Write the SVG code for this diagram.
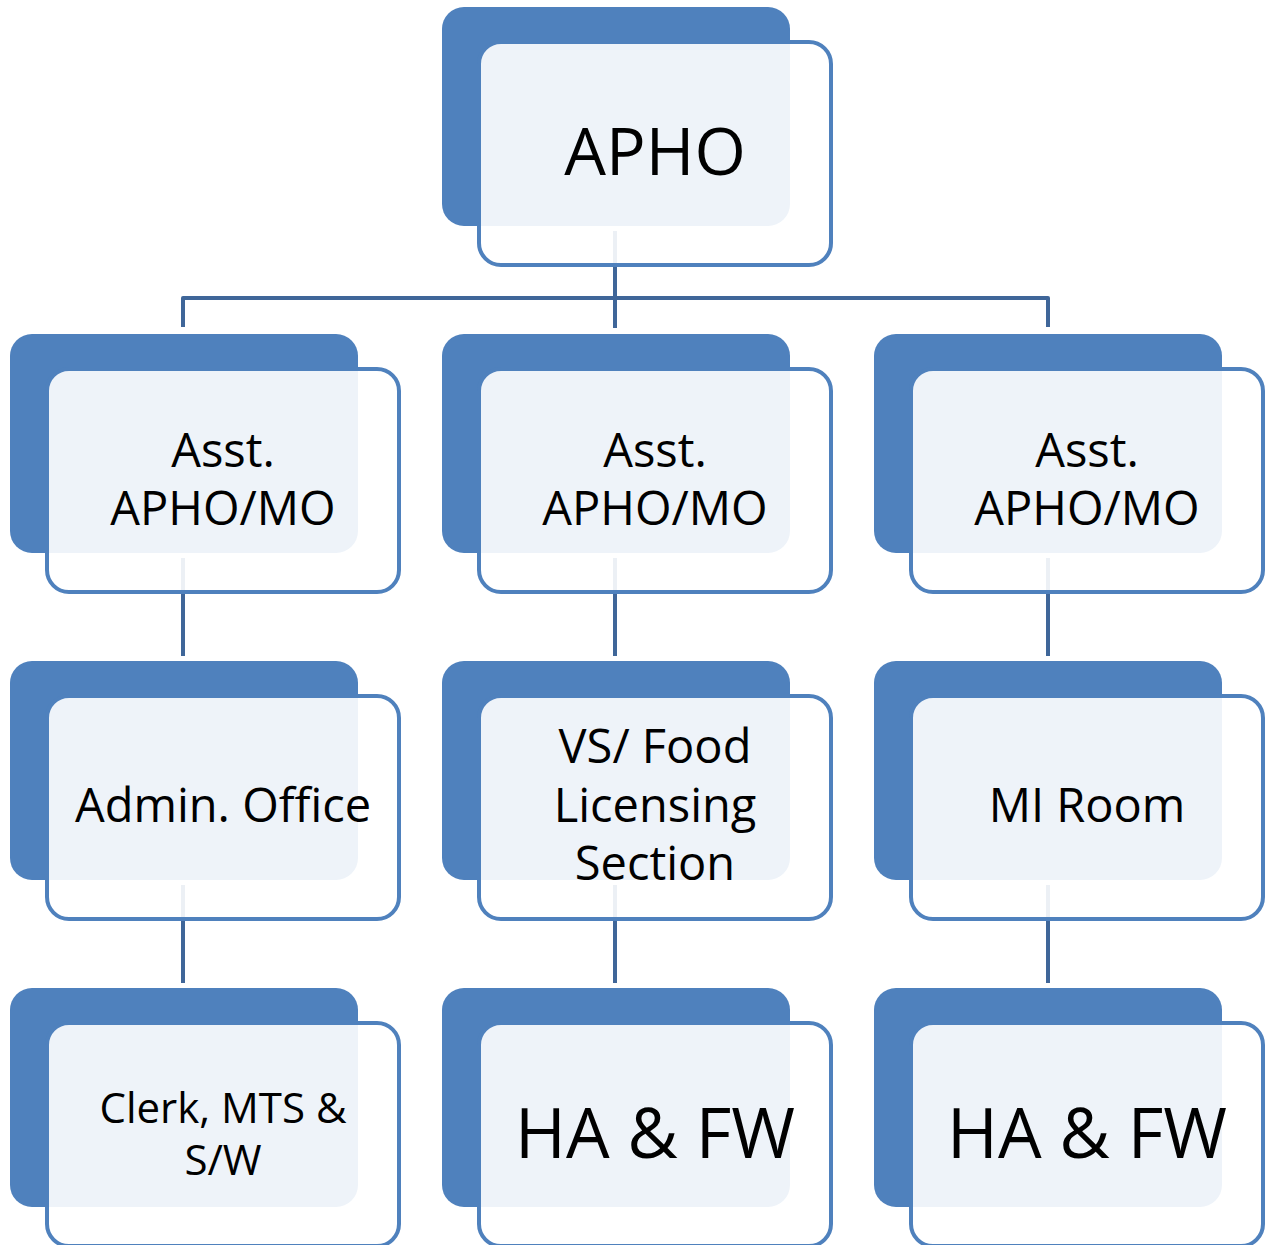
<svg xmlns="http://www.w3.org/2000/svg" width="1268" height="1245" viewBox="0 0 1268 1245">
<style>
.back{fill:#4F81BD;}
.front{fill:#FFFFFF;fill-opacity:0.9;stroke:#4F81BD;stroke-width:4;}
.conn{fill:none;stroke:#3F6699;stroke-width:4;}
text{font-family:"Open Sans","Noto Sans","Liberation Sans",sans-serif;fill:#000000;text-anchor:middle;}
.t46{font-size:47px;}
.t42{font-size:42px;}
.t66{font-size:66px;}
.t69{font-size:69px;}
</style>
<rect width="1268" height="1245" fill="#FFFFFF"/>
<g id="connectors">
<path class="conn" d="M615 231 V328"/>
<path class="conn" d="M183 327 V298 H1048 V327" stroke-linejoin="round"/>
<path class="conn" d="M183 558 V656"/>
<path class="conn" d="M615 558 V656"/>
<path class="conn" d="M1048 558 V656"/>
<path class="conn" d="M183 885 V983"/>
<path class="conn" d="M615 885 V983"/>
<path class="conn" d="M1048 885 V983"/>
</g>
<g id="apho">
<rect class="back" x="442" y="7" width="348" height="219" rx="22"/>
<rect class="front" x="479" y="42" width="352" height="223" rx="22"/>
<text class="t66" x="655" y="175">APHO</text>
</g>
<g id="asst1">
<rect class="back" x="10" y="334" width="348" height="219" rx="22"/>
<rect class="front" x="47" y="369" width="352" height="223" rx="22"/>
<text class="t46" x="223" y="467">Asst.</text>
<text class="t46" x="223" y="525">APHO/MO</text>
</g>
<g id="asst2">
<rect class="back" x="442" y="334" width="348" height="219" rx="22"/>
<rect class="front" x="479" y="369" width="352" height="223" rx="22"/>
<text class="t46" x="655" y="467">Asst.</text>
<text class="t46" x="655" y="525">APHO/MO</text>
</g>
<g id="asst3">
<rect class="back" x="874" y="334" width="348" height="219" rx="22"/>
<rect class="front" x="911" y="369" width="352" height="223" rx="22"/>
<text class="t46" x="1087" y="467">Asst.</text>
<text class="t46" x="1087" y="525">APHO/MO</text>
</g>
<g id="admin">
<rect class="back" x="10" y="661" width="348" height="219" rx="22"/>
<rect class="front" x="47" y="696" width="352" height="223" rx="22"/>
<text class="t46" x="223" y="822">Admin. Office</text>
</g>
<g id="vs">
<rect class="back" x="442" y="661" width="348" height="219" rx="22"/>
<rect class="front" x="479" y="696" width="352" height="223" rx="22"/>
<text class="t46" x="655" y="763">VS/ Food</text>
<text class="t46" x="655" y="822">Licensing</text>
<text class="t46" x="655" y="880">Section</text>
</g>
<g id="mi">
<rect class="back" x="874" y="661" width="348" height="219" rx="22"/>
<rect class="front" x="911" y="696" width="352" height="223" rx="22"/>
<text class="t46" x="1087" y="822">MI Room</text>
</g>
<g id="clerk">
<rect class="back" x="10" y="988" width="348" height="219" rx="22"/>
<rect class="front" x="47" y="1023" width="352" height="223" rx="22"/>
<text class="t42" x="223" y="1123">Clerk, MTS &amp;</text>
<text class="t42" x="223" y="1175">S/W</text>
</g>
<g id="ha1">
<rect class="back" x="442" y="988" width="348" height="219" rx="22"/>
<rect class="front" x="479" y="1023" width="352" height="223" rx="22"/>
<text class="t69" x="655" y="1158">HA &amp; FW</text>
</g>
<g id="ha2">
<rect class="back" x="874" y="988" width="348" height="219" rx="22"/>
<rect class="front" x="911" y="1023" width="352" height="223" rx="22"/>
<text class="t69" x="1087" y="1158">HA &amp; FW</text>
</g>
</svg>
